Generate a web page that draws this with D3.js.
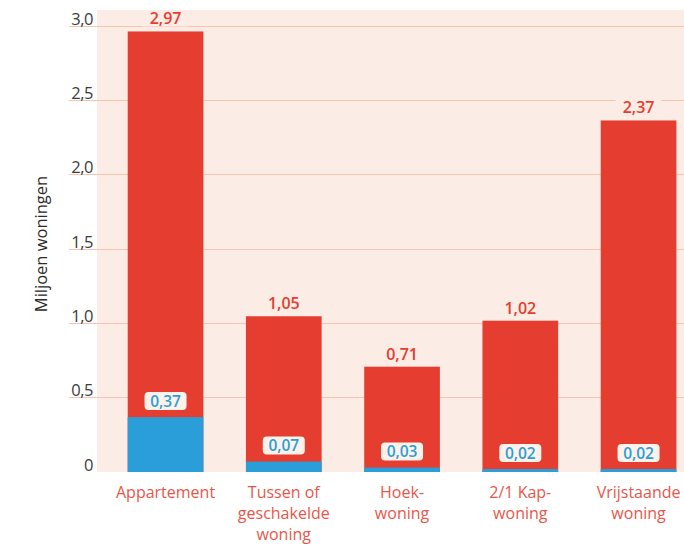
<!DOCTYPE html>
<html>
<head>
<meta charset="utf-8">
<script src="https://cdn.jsdelivr.net/npm/d3@7"></script>
<style>
  body { margin: 0; background: #fff; }
  svg { display: block; font-family: "Open Sans", Lato, sans-serif; }
</style>
</head>
<body>
<div id="paper"></div>
<script>
// categories (line breaks as in the original)
const categories = ["Appartement", "Tussen of\ngeschakelde\nwoning", "Hoek-\nwoning", "2/1 Kap-\nwoning", "Vrijstaande\nwoning"];
const totals = [2.97, 1.05, 0.71, 1.02, 2.37];
const parts = [0.37, 0.07, 0.03, 0.02, 0.02];
const yTicks = [0, 0.5, 1.0, 1.5, 2.0, 2.5, 3.0];

const width = 684, height = 546;
const red = "#e53d2f", blue = "#2a9ed9", bg = "#fcece6", grid = "#f8c4b0";

const fmt = v => v === 0 ? "0" : d3.format(".1f")(v).replace(".", ",");
const fmt2 = v => d3.format(".2f")(v).replace(".", ",");

const x = d3.scaleBand()
  .domain(categories)
  .range([80.4, 723.7])
  .paddingInner(0.36)
  .paddingOuter(0.4);

const y = d3.scaleLinear()
  .domain([0, 3])
  .range([472, 27]);

const svg = d3.create("svg")
  .attr("width", width)
  .attr("height", height);

// plot background
svg.append("rect")
  .attr("x", 97).attr("y", 10)
  .attr("width", width - 97).attr("height", y(0) - 10)
  .attr("fill", bg);

// gridlines + tick labels
const gy = svg.append("g");
gy.selectAll("line")
  .data(yTicks.filter(d => d > 0))
  .join("line")
  .attr("x1", 69).attr("x2", width)
  .attr("y1", d => Math.round(y(d)) - 0.5)
  .attr("y2", d => Math.round(y(d)) - 0.5)
  .attr("stroke", grid)
  .attr("stroke-width", 1.2);

gy.selectAll("text")
  .data(yTicks)
  .join("text")
  .attr("x", 93)
  .attr("y", d => d === 0 ? y(0) - 1 : y(d) - 2)
  .attr("text-anchor", "end")
  .attr("fill", "#3c3c3c")
  .attr("font-size", 16.5)
  .attr("letter-spacing", -0.5)
  .text(fmt);

// y axis title
svg.append("text")
  .attr("transform", `translate(47,244) rotate(-90)`)
  .attr("text-anchor", "middle")
  .attr("fill", "#2a2a2a")
  .attr("font-size", 16.5)
  .text("Miljoen woningen");

const bars = svg.append("g");

// total bars
bars.selectAll("rect.total")
  .data(categories)
  .join("rect")
  .attr("class", "total")
  .attr("x", d => x(d))
  .attr("width", x.bandwidth())
  .attr("y", (d, i) => y(totals[i]))
  .attr("height", (d, i) => y(0) - y(totals[i]))
  .attr("fill", red);

// part bars
bars.selectAll("rect.part")
  .data(categories)
  .join("rect")
  .attr("class", "part")
  .attr("x", d => x(d))
  .attr("width", x.bandwidth())
  .attr("y", (d, i) => y(parts[i]))
  .attr("height", (d, i) => y(0) - y(parts[i]))
  .attr("fill", blue);

// total labels with knockout
const tl = svg.append("g");
categories.forEach((c, i) => {
  const cx = x(c) + x.bandwidth() / 2;
  const ty = y(totals[i]) - 7;
  tl.append("rect")
    .attr("x", cx - 23).attr("y", ty - 14)
    .attr("width", 46).attr("height", 16)
    .attr("fill", bg);
  tl.append("text")
    .attr("x", cx).attr("y", ty)
    .attr("text-anchor", "middle")
    .attr("fill", red)
    .attr("font-size", 16)
    .attr("font-weight", 600)
    .text(fmt2(totals[i]));
});

// part labels in rounded boxes
const pl = svg.append("g");
categories.forEach((c, i) => {
  const cx = x(c) + x.bandwidth() / 2;
  const bottom = y(parts[i]) - 7;
  pl.append("rect")
    .attr("x", cx - 21).attr("y", bottom - 18)
    .attr("width", 42).attr("height", 18)
    .attr("rx", 4)
    .attr("fill", "#fdf2ea");
  pl.append("text")
    .attr("x", cx).attr("y", bottom - 3.5)
    .attr("text-anchor", "middle")
    .attr("fill", blue)
    .attr("font-size", 15.5)
    .attr("font-weight", 600)
    .text(fmt2(parts[i]));
});

// category labels
const cl = svg.append("g");
categories.forEach(c => {
  const t = cl.append("text")
    .attr("x", x(c) + x.bandwidth() / 2)
    .attr("y", 498)
    .attr("text-anchor", "middle")
    .attr("fill", "#e8564a")
    .attr("font-size", 16);
  c.split("\n").forEach((line, j) => {
    t.append("tspan")
      .attr("x", x(c) + x.bandwidth() / 2)
      .attr("dy", j === 0 ? 0 : 21)
      .text(line);
  });
});

paper.replaceChildren(svg.node());
</script>
</body>
</html>
